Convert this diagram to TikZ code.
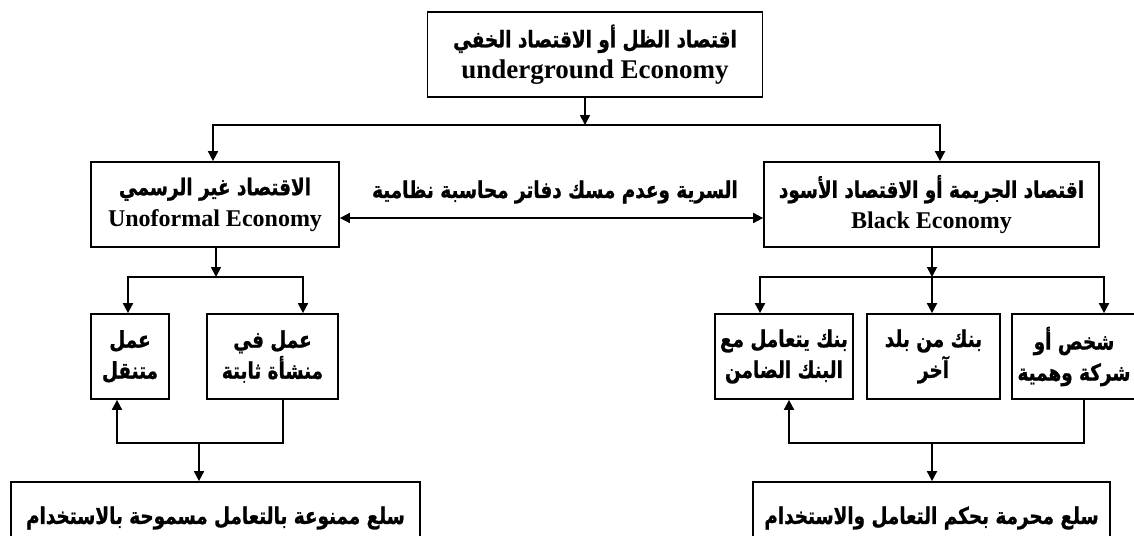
\documentclass[tikz,border=0pt]{standalone}
\usepackage{fontspec}
\setmainfont{Liberation Serif}
\newfontfamily\arabicfont[Script=Arabic, FakeStretch=0.8, FakeBold=1]{DejaVu Sans}
\TeXXeTstate=1
\usetikzlibrary{arrows.meta, positioning, calc}
\newcommand{\artxt}[1]{{\arabicfont\bfseries\beginR #1\endR}}
\newcommand{\entxt}[2][24]{{\fontsize{#1}{31}\selectfont #2}}

\begin{document}
\begin{tikzpicture}[x=1pt, y=-1pt, line width=1.7pt,
  every node/.style={font=\fontsize{23}{31}\selectfont\bfseries},
  box/.style={draw, line width=1.7pt, inner sep=0pt, align=center},
  arr/.style={-{Triangle[length=10pt, width=10pt]}}]
  \path[use as bounding box, clip] (0,0) rectangle (1134,535);
  \node[box, minimum width=335, minimum height=85] (shadow) at (595,54.5) {\artxt{اقتصاد الظل أو الاقتصاد الخفي}\\\entxt[27]{underground Economy}};
  \node[box, minimum width=248, minimum height=85] (informal) at (215,204.5) {\artxt{الاقتصاد غير الرسمي}\\\entxt{Unoformal Economy}};
  \node[box, minimum width=335, minimum height=85] (black) at (931.5,204.5) {\artxt{اقتصاد الجريمة أو الاقتصاد الأسود}\\\entxt{Black Economy}};
  \node (secrecy) at (555,192) {\artxt{السرية وعدم مسك دفاتر محاسبة نظامية}};
  \node[box, minimum width=78, minimum height=85] (mobile) at (130,356.5) {\artxt{عمل}\\\artxt{متنقل}};
  \node[box, minimum width=131, minimum height=85] (fixed) at (272.5,356.5) {\artxt{عمل في}\\\artxt{منشأة ثابتة}};
  \node[box, minimum width=138, minimum height=85] (bank1) at (784,356.5) {\artxt{بنك يتعامل مع}\\\artxt{البنك الضامن}};
  \node[box, minimum width=133, minimum height=85] (bank2) at (933.5,356.5) {\artxt{بنك من بلد}\\\artxt{آخر}};
  \node[box, minimum width=124, minimum height=85] (fake) at (1074,356.5) {\artxt{شخص أو}\\\artxt{شركة وهمية}};
  \node[box, minimum width=409, minimum height=72] (allowed) at (215.5,518) {\artxt{سلع ممنوعة بالتعامل مسموحة بالاستخدام}};
  \node[box, minimum width=357, minimum height=72] (banned) at (931.5,518) {\artxt{سلع محرمة بحكم التعامل والاستخدام}};
  \coordinate (tj) at (585,125);
  \coordinate (lj) at (216,277);
  \coordinate (rj) at (932,277);
  \coordinate (lb) at (199,443);
  \coordinate (rb) at (932,443);
  \draw[arr] ($(shadow.south)+(-10,0)$) -- (tj);
  \draw[arr] (tj) -| ($(informal.north)+(-2,0)$);
  \draw[arr] (tj) -| ($(black.north)+(8.5,0)$);
  \draw[{Triangle[length=10pt, width=10pt]}-{Triangle[length=10pt, width=10pt]}] ($(informal.east)+(0,13.5)$) -- ($(black.west)+(0,13.5)$);
  \draw[arr] (informal.south -| lj) -- (lj);
  \draw[arr] (lj) -| ($(mobile.north)+(-2,0)$);
  \draw[arr] (lj) -| ($(fixed.north)+(30.5,0)$);
  \draw[arr] (black.south -| rj) -- (rj);
  \draw[arr] (rj) -| ($(bank1.north)+(-24,0)$);
  \draw[arr] (rj) -- (bank2.north -| rj);
  \draw[arr] (rj) -| ($(fake.north)+(30,0)$);
  \draw[arr] ($(fixed.south)+(10.5,0)$) |- (lb) -| ($(mobile.south)+(-13,0)$);
  \draw[arr] (lb) -- (allowed.north -| lb);
  \draw[arr] ($(fake.south)+(10,0)$) |- (rb) -| ($(bank1.south)+(5,0)$);
  \draw[arr] (rb) -- (banned.north -| rb);
\end{tikzpicture}
\end{document}
